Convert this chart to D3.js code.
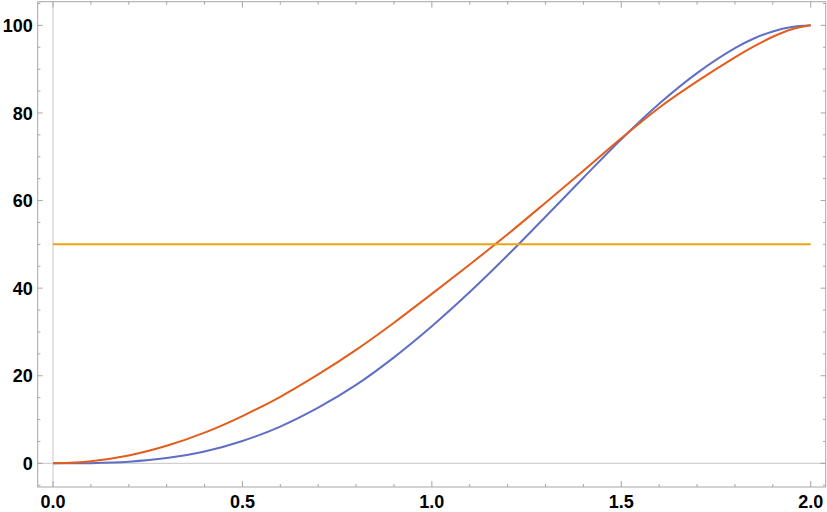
<!DOCTYPE html>
<html>
<head>
<meta charset="utf-8">
<script src="https://cdn.jsdelivr.net/npm/d3@7/dist/d3.min.js"></script>
<style>
  html, body { margin: 0; padding: 0; background: #fff; }
  svg { display: block; }
  .tick-label { font-family: "Liberation Sans", Arial, sans-serif; font-weight: bold; font-size: 18px; fill: #000; }
</style>
</head>
<body>
<svg id="chart" width="827" height="512"></svg>
<script>
// ---- data ----
const xValues = [0.0, 0.1, 0.2, 0.3, 0.4, 0.5, 0.6, 0.7, 0.8, 0.9, 1.0,
                 1.1, 1.2, 1.3, 1.4, 1.5, 1.6, 1.7, 1.8, 1.85, 1.9, 1.95, 2.0];
const blueSeries = [0, 0.05, 0.37, 1.2, 2.7, 5.1, 8.4, 12.7, 17.9, 24.2, 31.3,
                    39.1, 47.5, 56.3, 65.2, 74.0, 82.1, 89.1, 94.8, 97.0, 98.6, 99.6, 100];
const orangeSeries = [0, 0.5, 1.8, 4.0, 7.0, 10.8, 15.2, 20.3, 25.9, 32.1, 38.7,
                      45.4, 52.3, 59.5, 66.8, 74.2, 81.2, 87.2, 92.7, 95.2, 97.4, 99.1, 100];
const levelX = [0, 2];
const levelValue = 50;
const xTickLabels = ["0.0", "0.5", "1.0", "1.5", "2.0"];
const yTickLabels = ["0", "20", "40", "60", "80", "100"];

// ---- layout ----
const svg = d3.select("#chart");
const frame = { left: 37.7, right: 825.7, top: 1.7, bottom: 487 };
const x = d3.scaleLinear().domain([-0.0404, 2.0396]).range([frame.left, frame.right]);
const y = d3.scaleLinear().domain([-5.4, 105.4]).range([frame.bottom, frame.top]);

const frameColor = "#a6a6a6";
const axisColor = "#d0d0d0";

// axes lines at zero
svg.append("line").attr("x1", frame.left).attr("x2", frame.right)
  .attr("y1", y(0)).attr("y2", y(0)).attr("stroke", axisColor).attr("stroke-width", 1.2);
svg.append("line").attr("x1", x(0)).attr("x2", x(0))
  .attr("y1", frame.top).attr("y2", frame.bottom).attr("stroke", axisColor).attr("stroke-width", 1.2);

// series
const line = d3.line().x(d => x(d[0])).y(d => y(d[1])).curve(d3.curveCatmullRom.alpha(0.5));
const blueData = xValues.map((v, i) => [v, blueSeries[i]]);
const orangeData = xValues.map((v, i) => [v, orangeSeries[i]]);
const levelData = levelX.map(v => [v, levelValue]);

svg.append("path").datum(blueData).attr("d", line)
  .attr("fill", "none").attr("stroke", "#5f6fc4").attr("stroke-width", 2);
svg.append("path").datum(orangeData).attr("d", line)
  .attr("fill", "none").attr("stroke", "#e35d1c").attr("stroke-width", 2);
svg.append("path").datum(levelData).attr("d", d3.line().x(d => x(d[0])).y(d => y(d[1])))
  .attr("fill", "none").attr("stroke", "#f0a20f").attr("stroke-width", 2);

// frame
svg.append("rect").attr("x", frame.left).attr("y", frame.top)
  .attr("width", frame.right - frame.left).attr("height", frame.bottom - frame.top)
  .attr("fill", "none").attr("stroke", frameColor).attr("stroke-width", 1);

// ticks
const xMajor = xTickLabels.map(Number);
const xMinor = d3.range(0, 21).map(i => i / 10).filter(v => !xMajor.some(m => Math.abs(m - v) < 1e-9));
const yMajor = yTickLabels.map(Number);
const yMinor = d3.range(-5, 106, 5).filter(v => !yMajor.includes(v) && v >= -5.4 && v <= 105.4);

const tickG = svg.append("g").attr("stroke", frameColor).attr("stroke-width", 1);
function xTick(v, len) {
  tickG.append("line").attr("x1", x(v)).attr("x2", x(v)).attr("y1", frame.bottom).attr("y2", frame.bottom - len);
  tickG.append("line").attr("x1", x(v)).attr("x2", x(v)).attr("y1", frame.top).attr("y2", frame.top + len);
}
function yTick(v, len) {
  tickG.append("line").attr("y1", y(v)).attr("y2", y(v)).attr("x1", frame.left).attr("x2", frame.left + len);
  tickG.append("line").attr("y1", y(v)).attr("y2", y(v)).attr("x1", frame.right).attr("x2", frame.right - len);
}
xMajor.forEach(v => xTick(v, 6));
xMinor.forEach(v => xTick(v, 3));
yMajor.forEach(v => yTick(v, 5));
yMinor.forEach(v => yTick(v, 2.7));

// labels
svg.selectAll(".xl").data(xTickLabels).enter().append("text")
  .attr("class", "tick-label").attr("x", d => x(+d)).attr("y", 507.5)
  .attr("text-anchor", "middle").text(d => d);
svg.selectAll(".yl").data(yTickLabels).enter().append("text")
  .attr("class", "tick-label").attr("x", 32.7).attr("y", d => y(+d) + 6.6)
  .attr("text-anchor", "end").text(d => d);
</script>
</body>
</html>
